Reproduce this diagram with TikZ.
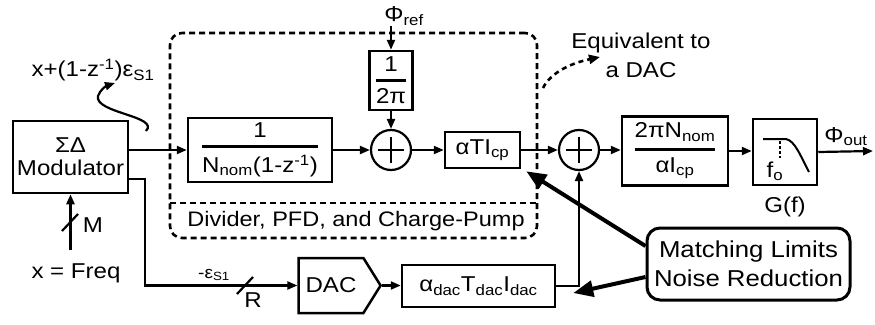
\documentclass[tikz,border=0pt]{standalone}
\usepackage{amsmath}
\usepackage{fontspec}
\setmainfont{Liberation Sans}[FakeStretch=1.12]
\usetikzlibrary{arrows.meta,shapes.symbols,calc}
\newcommand{\fr}[2]{$\genfrac{}{}{2.4pt}{0}{\text{#1}}{\text{#2}}$}
\begin{document}
\begin{tikzpicture}[x=1pt,y=-1pt,
  font=\fontsize{21.5}{25}\selectfont,
  sigbox/.style={draw, line width=2.5pt, inner sep=1pt, align=center},
  wirea/.style={line width=2.2pt, -{Triangle[length=10pt,width=8pt]}},
  wireplain/.style={line width=2.2pt},
  sumnode/.style={circle, draw, line width=2.2pt, minimum size=40pt, inner sep=0pt,
    path picture={\draw[line width=1.6pt] ([xshift=-13pt]path picture bounding box.center) -- ([xshift=13pt]path picture bounding box.center);
      \draw[line width=1.6pt] ([yshift=-13pt]path picture bounding box.center) -- ([yshift=13pt]path picture bounding box.center);}},
  dashframe/.style={draw, line width=2.6pt, dash pattern=on 6pt off 4pt},
  bigarrow/.style={line width=4pt, -{Triangle[length=20pt,width=16pt]}},
  lbl/.style={inner sep=0pt, align=center},
]
\useasboundingbox (0,0) rectangle (875,324);

% dashed frame
\node[dashframe, rounded corners=12pt, minimum width=367pt, minimum height=205pt] (pll) at (353.5,135.5) {};
\coordinate (dl) at (170,203);
\coordinate (dr) at (537,203);
\draw[dashframe] (dl) -- (dr);
\node[lbl, font=\fontsize{21}{24}\selectfont] (dpc) at (356,221) {Divider, PFD, and Charge-Pump};

% blocks
\node[sigbox, minimum width=115pt, minimum height=72pt] (mod) at (70.5,157) {ΣΔ\\[-2pt]Modulator};
\node[sigbox, minimum width=144pt, minimum height=64pt] (div) at (260,150) {\fr{1}{N\textsubscript{nom}(1-z\textsuperscript{-1})}};
\node[sigbox, minimum width=43pt, minimum height=59pt] (inv) at (391,80.5) {\fr{1}{2π}};
\node[sumnode] (add1) at (391,150) {};
\node[sigbox, minimum width=75pt, minimum height=36pt] (atc) at (482.5,150) {αTI\textsubscript{cp}};
\node[sumnode] (add2) at (579,150) {};
\node[sigbox, minimum width=106pt, minimum height=69pt] (gain) at (675,151) {\fr{2πN\textsubscript{nom}}{αI\textsubscript{cp}}};
\node[sigbox, minimum width=64pt, minimum height=66pt] (gf) at (785,152) {};
\node[draw, line width=2.5pt, signal, signal to=east, signal pointer angle=116, minimum width=82pt, minimum height=55pt, inner sep=2pt] (dac) at (331,285.5) {DAC};
\node[sigbox, minimum width=153pt, minimum height=42pt] (adac) at (478.5,286) {α\textsubscript{dac}T\textsubscript{dac}I\textsubscript{dac}};
\node[draw, line width=3pt, rounded corners=13pt, minimum width=203pt, minimum height=72pt, align=center, font=\fontsize{23}{29}\selectfont] (match) at (748.5,264) {Matching Limits\\Noise Reduction};

% lowpass symbol in G(f)
\draw[line width=2pt] (763,139) -- (786,139) .. controls (795,141) and (800,155) .. (809,172);
\draw[line width=2pt, dash pattern=on 3pt off 2pt] (780,141) -- (780,158);
\node[lbl] (fo) at (775,171) {f\textsubscript{o}};

% labels
\node[lbl] (phiref) at (404,16) {Φ\textsubscript{ref}};
\node[lbl] (phiout) at (846,137) {Φ\textsubscript{out}};
\node[lbl] (gflab) at (785,207) {G(f)};
\node[lbl] (xeq) at (93,70) {x+(1-z\textsuperscript{-1})ε\textsubscript{S1}};
\node[lbl] (mlab) at (93,225) {M};
\node[lbl] (xfreq) at (76,273) {x = Freq};
\node[lbl, font=\fontsize{17}{20}\selectfont] (epslab) at (214,275) {-ε\textsubscript{S1}};
\node[lbl] (rlab) at (253,300) {R};
\node[lbl, font=\fontsize{21.5}{29}\selectfont] (equiv) at (641,55) {Equivalent to\\a DAC};

% connectors
\draw[wirea] (mod.east |- div.west) -- (div.west);
\draw[wirea] (div.east) -- (add1.west);
\draw[wirea] (phiref.south -| inv.north) -- (inv.north);
\draw[wirea] (inv.south) -- (add1.north);
\draw[wirea] (add1.east) -- (atc.west);
\draw[wirea] (atc.east) -- (add2.west);
\draw[wirea] (add2.east) -- (add2.east -| gain.west);
\draw[wirea] (gain.east) -- (gain.east -| gf.west);
\coordinate (outend) at (873,151);
\draw[wirea] (gf.west -| gf.east) -- (outend);

\coordinate (xin) at (70.5,250);
\draw[wirea] (xin) -- (mod.south);
\draw[wireplain] (62,231) -- (78,214);

\draw[wirea] ([yshift=-22pt]mod.east) -- ++(16,0) |- (dac.west);
\draw[wireplain] (237,294) -- (253,277);
\draw[wirea] (dac.east) -- (dac.east -| adac.west);
\draw[wirea] (adac.east) -| (add2.south);

% curly arrow
\coordinate (cst) at (146,131);
\coordinate (cend) at (115,83);
\draw[line width=2.2pt, -{Triangle[length=10pt,width=8pt]}] (cst) .. controls (160,116) and (94,113) .. (98,96) .. controls (100,90) and (106,86) .. (cend);

% dashed arrow to label
\coordinate (dst) at (543,88);
\coordinate (dend) at (600,57);
\draw[line width=2.6pt, dash pattern=on 5pt off 4pt, -{Triangle[length=11pt,width=9pt]}] (dst) .. controls (551,72) and (572,63) .. (dend);

% thick arrows
\draw[bigarrow] ([yshift=18pt]match.west) -- ([shift={(5pt,-2pt)}]atc.south east);
\draw[bigarrow] ([yshift=-13pt]match.west) -- ([shift={(17pt,-7pt)}]adac.east);
\end{tikzpicture}
\end{document}
